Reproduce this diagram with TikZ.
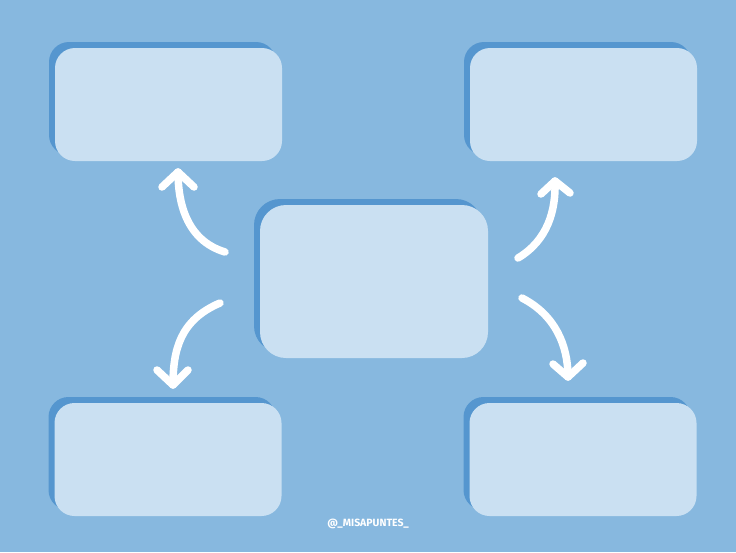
\documentclass[tikz,border=0pt]{standalone}
\usepackage{fontspec}
\setmainfont{Fira Sans}
\usetikzlibrary{shadows}
\definecolor{bgcol}{HTML}{87B8DF}
\definecolor{shcol}{HTML}{5596CF}
\definecolor{boxcol}{HTML}{CAE0F2}
\tikzset{
  card/.style={rectangle, rounded corners=20pt, fill=boxcol, minimum width=227pt, minimum height=113pt, inner sep=0pt,
    general shadow={fill=shcol, shadow xshift=-6pt, shadow yshift=6pt}},
  bigcard/.style={card, rounded corners=26pt, minimum width=228pt, minimum height=153pt},
  curvearrow/.style={draw=white, line width=7.5pt, line cap=round, line join=round},
}
\begin{document}
\begin{tikzpicture}[x=1pt,y=-1pt]
\fill[bgcol] (0,0) rectangle (736,552);
\useasboundingbox (0,0) rectangle (736,552);
\node[card] (tl) at (168.5,104.5) {};
\node[card] (tr) at (583.5,104.5) {};
\node[bigcard] (c) at (374,281.5) {};
\node[card] (bl) at (168,459.5) {};
\node[card] (br) at (583,459.5) {};
% arrow coordinates
\coordinate (tlA) at (225,252); \coordinate (tlB) at (178,172);
\coordinate (trA) at (518,258); \coordinate (trB) at (555,181);
\coordinate (blA) at (220,303); \coordinate (blB) at (173,385);
\coordinate (brA) at (522,298); \coordinate (brB) at (568,377);
\draw[curvearrow] (tlA) .. controls (185,240) and (178,200) .. (tlB);
\draw[curvearrow] ([shift={(-16,15)}]tlB) -- (tlB) -- ([shift={(16,15)}]tlB);
\draw[curvearrow] (trA) .. controls (548,240) and (556,210) .. (trB);
\draw[curvearrow] ([shift={(-14,13)}]trB) -- (trB) -- ([shift={(15,12)}]trB);
\draw[curvearrow] (blA) .. controls (180,320) and (173,350) .. (blB);
\draw[curvearrow] ([shift={(-16,-15)}]blB) -- (blB) -- ([shift={(15,-15)}]blB);
\draw[curvearrow] (brA) .. controls (555,315) and (568,345) .. (brB);
\draw[curvearrow] ([shift={(-15,-13)}]brB) -- (brB) -- ([shift={(15,-14)}]brB);
\node[text=white, font=\fontsize{10.5}{12}\selectfont\bfseries] (credit) at (368,524) {@\_MISAPUNTES\_};
\end{tikzpicture}
\end{document}
